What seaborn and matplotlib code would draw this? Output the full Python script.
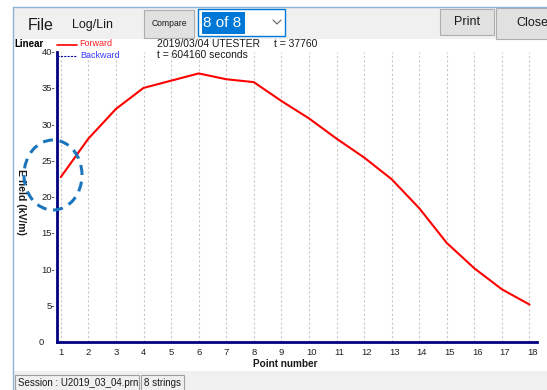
import matplotlib
matplotlib.use("Agg")
import matplotlib.pyplot as plt
import matplotlib.transforms as mtransforms
from matplotlib.patches import Rectangle, Ellipse
from matplotlib.lines import Line2D
import seaborn as sns
import pandas as pd

# ---- data ----
points = list(range(1, 19))
efield_forward = [22.7, 28.0, 32.1, 35.0, 36.0, 37.0, 36.2, 35.8, 33.2, 30.8,
                  28.0, 25.4, 22.4, 18.4, 13.6, 10.1, 7.2, 5.1]
y_ticks = [0, 5, 10, 15, 20, 25, 30, 35, 40]
y_ticklabels = ["0    ", "5-", "10-", "15-", "20-", "25-", "30-", "35-", "40-"]
x_ticklabels = [str(p) for p in points]

sns.set_style("white")
plt.rcParams['font.family'] = ['Liberation Sans', 'DejaVu Sans']

W, H = 547, 390
fig = plt.figure(figsize=(W / 100, H / 100), dpi=100)
fig.patch.set_facecolor("white")


def fx(x):
    return x / W


def fy(y):
    return 1 - y / H


def rect(x0, y0, x1, y1, fc, ec="none", lw=0.8, z=1):
    r = Rectangle((fx(x0), fy(y1)), fx(x1) - fx(x0), fy(y0) - fy(y1),
                  transform=fig.transFigure, fc=fc, ec=ec, lw=lw, zorder=z)
    fig.add_artist(r)


def hline(x0, x1, y, color, lw=0.8, ls="-", z=3):
    fig.add_artist(Line2D([fx(x0), fx(x1)], [fy(y), fy(y)], transform=fig.transFigure,
                          color=color, lw=lw, ls=ls, zorder=z))


def txt(x, y, s, size, color="#1a1a1a", ha="left", va="center", weight="normal", rot=0, z=4):
    fig.text(fx(x), fy(y), s, fontsize=size, color=color, ha=ha, va=va,
             fontweight=weight, rotation=rot, zorder=z)


# ---- window chrome ----
rect(13, 7, 547, 39, "#f0f0f0", z=0)
rect(13, 371, 547, 390, "#f0f0f0", z=0)
hline(13, 547, 7, "#8fb1d8", lw=1.0)
fig.add_artist(Line2D([fx(13), fx(13)], [fy(7), fy(390)], transform=fig.transFigure,
                      color="#8fb1d8", lw=1.0, zorder=3))

txt(28, 26, "File", 11.5)
txt(72, 25, "Log/Lin", 9)
rect(144, 10, 194, 38, "#e1e1e1", "#adadad")
txt(169, 24, "Compare", 6.2, ha="center")
rect(198, 9, 285, 36, "white", "#0078d7", lw=1.0)
rect(202, 12, 245, 34, "#0078d7", z=2)
txt(203, 23, "8 of 8", 11, color="white", z=5)
fig.add_artist(Line2D([fx(273), fx(277), fx(281)], [fy(20), fy(24), fy(20)],
                      transform=fig.transFigure, color="#606060", lw=0.8, zorder=3))
rect(440, 9, 494, 35, "#e1e1e1", "#adadad")
txt(467, 22, "Print", 9, ha="center")
rect(496, 8, 560, 39, "#e1e1e1", "#adadad")
txt(516, 23, "Close", 9)

rect(15, 375, 139, 392, "#f0f0f0", "#a0a0a0", z=1)
txt(18, 383, "Session : U2019_03_04.prn", 7)
rect(141, 375, 184, 392, "#f0f0f0", "#a0a0a0", z=1)
txt(144, 383, "8 strings", 7)

# ---- plot ----
ax_l, ax_r, ax_t, ax_b = 57.3, 537.0, 51.7, 341.5
ax = fig.add_axes([fx(ax_l), fy(ax_b), fx(ax_r) - fx(ax_l), fy(ax_t) - fy(ax_b)])
ax.set_facecolor("white")

df = pd.DataFrame({"Point number": points, "E field": efield_forward})
sns.lineplot(data=df, x="Point number", y="E field", ax=ax, color="#ff0000",
             lw=1.5, zorder=3, legend=False)

px_per_unit = 27.57
ax.set_xlim(1 - 3.5 / px_per_unit, 18 + 7.5 / px_per_unit)
ax.set_ylim(0, 40)

ax.set_xticks(points)
ax.set_xticklabels(x_ticklabels)
ax.set_yticks(y_ticks)
ax.set_yticklabels(y_ticklabels)
ax.tick_params(axis="both", length=0, labelsize=6.8, labelcolor="#222222")
ax.tick_params(axis="x", pad=5)
ax.tick_params(axis="y", pad=1.5)
for lab in ax.get_xticklabels():
    lab.set_ha("left")
    lab.set_transform(lab.get_transform() + mtransforms.ScaledTranslation(-2.5 / 100, 0, fig.dpi_scale_trans))

ax.grid(axis="x", color="#c8c8c8", lw=0.8, ls=(0, (2, 2)))
ax.grid(axis="y", visible=False)
for s in ["top", "right"]:
    ax.spines[s].set_visible(False)
for s in ["left", "bottom"]:
    ax.spines[s].set_color("#000080")
    ax.spines[s].set_linewidth(2.0)
    ax.spines[s].set_zorder(4)

ax.set_xlabel("")
ax.set_ylabel("")
txt(285, 364, "Point number", 7.2, weight="bold", ha="center")
txt(21, 202, "E field (kV/m)", 7.5, weight="bold", ha="center", rot=270)

# header texts / legend
txt(14, 44, "Linear", 7, weight="bold", color="black", z=6)
hline(57, 77, 45, "#ff0000", lw=1.2, z=6)
txt(79, 44, "Forward", 6.5, color="#ff2020", z=6)
hline(57, 77, 56, "#1010b0", lw=0.8, ls=(0, (2, 1)), z=6)
txt(80, 55, "Backward", 6.5, color="#3c3cff", z=6)
txt(157, 44, "2019/03/04 UTESTER", 7.5, z=6)
txt(274, 44, "t = 37760", 7.5, z=6)
txt(157, 55, "t = 604160 seconds", 7.5, z=6)

# dashed highlight circle
ell = Ellipse((fx(53), fy(175)), 58 / W, 70 / H, transform=fig.transFigure,
              fill=False, ec="#1b75bc", lw=2.2, ls=(0, (3.3, 2.2)), zorder=10)
fig.add_artist(ell)

fig.savefig("out.png", dpi=100)
